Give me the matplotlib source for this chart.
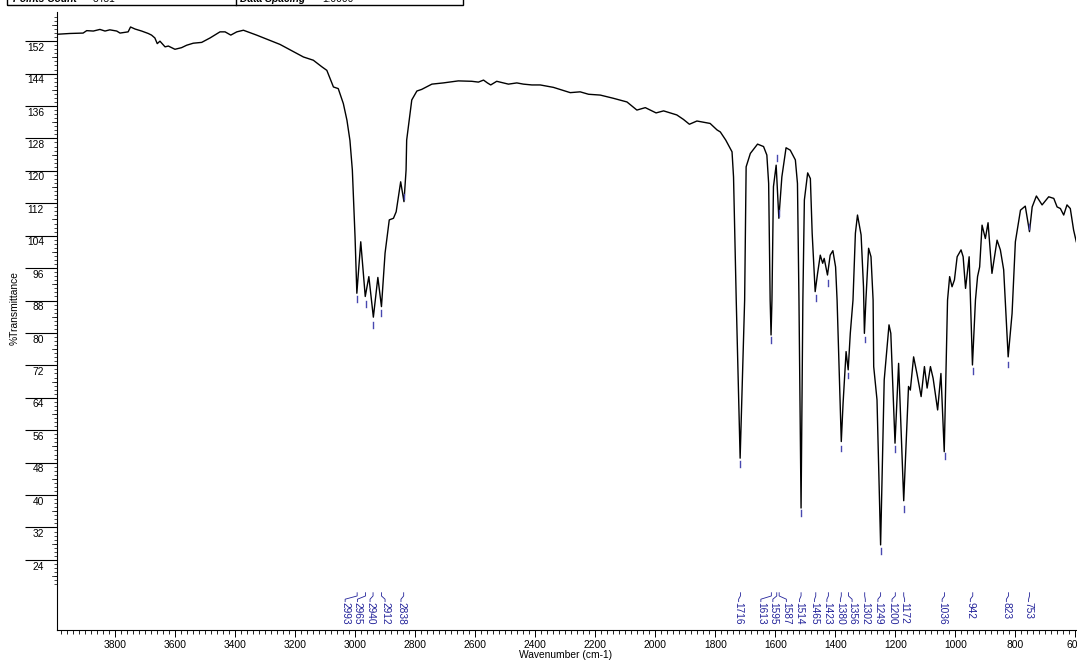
import numpy as np
import matplotlib.pyplot as plt
from matplotlib import transforms
from matplotlib.patches import Rectangle
from matplotlib.lines import Line2D
from matplotlib.ticker import FixedLocator, NullFormatter

plt.rcParams['font.family'] = ['Liberation Sans', 'DejaVu Sans']

# --- spectrum (wavenumber cm-1, %T) ---
wavenumber = [
    3994, 3950, 3906, 3894, 3872, 3850, 3833, 3817, 3794, 3783, 3756, 3748,
    3733, 3711, 3689, 3678, 3667, 3659, 3650, 3633, 3622, 3600, 3578, 3561,
    3539, 3511, 3483, 3450, 3433, 3414, 3394, 3372, 3328, 3250, 3172, 3139,
    3111, 3094, 3072, 3056, 3039, 3027, 3017, 3009, 3000, 2994, 2981, 2966,
    2954, 2939, 2924, 2912, 2900, 2886, 2872, 2863, 2848, 2837, 2830, 2828,
    2811, 2794, 2778, 2744, 2706, 2656, 2611, 2589, 2572, 2559, 2548, 2528,
    2506, 2489, 2461, 2439, 2411, 2383, 2339, 2283, 2250, 2222, 2183, 2139,
    2094, 2061, 2033, 1997, 1972, 1928, 1906, 1886, 1861, 1817, 1794, 1783,
    1765, 1744, 1739, 1730, 1717, 1702, 1697, 1683, 1659, 1639, 1628, 1622,
    1617, 1614, 1611, 1606, 1597, 1588, 1578, 1564, 1550, 1533, 1526, 1521,
    1514, 1508, 1503, 1492, 1483, 1477, 1467, 1459, 1450, 1442, 1437, 1426,
    1417, 1408, 1399, 1394, 1389, 1380, 1374, 1364, 1357, 1350, 1341, 1333,
    1326, 1314, 1306, 1303, 1298, 1289, 1281, 1274, 1272, 1261, 1249, 1237,
    1221, 1215, 1201, 1189, 1172, 1156, 1150, 1139, 1128, 1114, 1103, 1094,
    1083, 1074, 1059, 1048, 1037, 1026, 1019, 1011, 1003, 994, 981, 974,
    966, 954, 943, 933, 926, 919, 911, 900, 891, 878, 861, 850,
    839, 824, 811, 800, 783, 767, 753, 744, 730, 711, 689, 672,
    661, 650, 639, 628, 617, 606, 597,
]
transmittance = [
    153.7, 153.9, 154.0, 154.6, 154.5, 154.9, 154.5, 154.8, 154.5, 154.0, 154.3, 155.5,
    155.0, 154.5, 153.9, 153.5, 152.8, 151.4, 152.0, 150.6, 150.8, 150.0, 150.4, 151.0,
    151.5, 151.7, 152.8, 154.3, 154.3, 153.5, 154.3, 154.7, 153.5, 151.2, 148.1, 147.3,
    145.7, 144.8, 140.7, 140.3, 136.6, 132.5, 127.5, 120.2, 103.7, 89.8, 102.5, 89.0,
    93.9, 83.9, 93.7, 86.5, 99.7, 107.9, 108.3, 109.9, 117.3, 112.4, 120.2, 127.6,
    137.5, 139.7, 140.1, 141.4, 141.7, 142.2, 142.1, 141.9, 142.4, 141.7, 141.2, 142.1,
    141.7, 141.4, 141.7, 141.4, 141.2, 141.2, 140.6, 139.3, 139.5, 138.9, 138.7, 137.9,
    137.0, 135.0, 135.6, 134.3, 134.8, 133.8, 132.7, 131.5, 132.3, 131.7, 130.1, 129.6,
    127.6, 124.7, 118.5, 88.1, 49.1, 88.1, 121.0, 124.3, 126.6, 126.0, 123.9, 116.9,
    88.1, 79.5, 88.1, 116.1, 121.4, 108.3, 118.5, 125.7, 125.1, 122.7, 116.9, 88.1,
    36.8, 88.1, 112.8, 119.5, 118.1, 104.6, 90.2, 94.7, 99.2, 97.2, 98.4, 94.3,
    99.2, 100.3, 96.3, 88.1, 75.8, 53.2, 62.7, 75.4, 70.9, 79.9, 88.1, 104.6,
    109.1, 104.2, 91.4, 79.9, 88.1, 100.9, 98.8, 88.1, 71.7, 63.5, 27.7, 68.4,
    82.0, 79.9, 52.8, 72.5, 38.6, 66.8, 65.9, 74.1, 70.0, 64.3, 71.7, 66.4,
    71.7, 68.8, 61.0, 70.0, 50.7, 88.1, 93.9, 91.4, 93.1, 98.8, 100.5, 98.8,
    91.0, 98.8, 72.1, 88.1, 93.9, 96.3, 106.6, 103.3, 107.2, 94.7, 102.9, 100.5,
    95.6, 74.1, 84.8, 102.5, 110.3, 111.3, 105.0, 111.1, 113.8, 111.6, 113.6, 113.2,
    111.1, 110.7, 109.1, 111.6, 110.7, 105.4, 102.5,
]

# --- peak picks: label, top of the blue marker (%T), label slot (cm-1) ---
peak_labels = [2993, 2965, 2940, 2912, 2838, 1716, 1613, 1595, 1587, 1514, 1465,
               1423, 1380, 1356, 1302, 1249, 1200, 1172, 1036, 942, 823, 753]
peak_marks = [89.1, 87.9, 82.6, 85.7, 114.4, 48.3, 78.9, 123.9, 110.3, 36.3, 89.4,
              93.1, 52.2, 70.2, 79.1, 26.9, 52.0, 37.3, 50.3, 71.3, 72.9, 107.0]
label_slots = [3033, 2992, 2950, 2900, 2847, 1722, 1648, 1608, 1563, 1519, 1469,
               1428, 1383, 1344, 1300, 1258, 1211, 1169, 1044, 950, 830, 756]

y_major = list(range(24, 153, 8))
x_major = list(range(3800, 599, -200))

W, H = 1077, 662
fig = plt.figure(figsize=(W / 100, H / 100), dpi=100)
ax = fig.add_axes([57 / W, 1 - 630 / H, (1076 - 57) / W, 618 / H])

ax.plot(wavenumber, transmittance, color='black', lw=1.0)
ax.set_xlim(3993, 598)
ax.set_ylim(6.7, 159.2)

mark_col = '#4848b0'
text_col = '#22229a'
for lab, top, slot in zip(peak_labels, peak_marks, label_slots):
    ax.plot([lab, lab], [top, top - 1.4], color=mark_col, lw=1.0)
    ax.plot([lab, lab, slot, slot], [15.9, 15.1, 14.3, 13.7], color=text_col, lw=0.6)
    ax.text(slot, 13.5, str(lab), rotation=-90, ha='center', va='top',
            fontsize=7.3, color=text_col)

# axes styling
for s in ['top', 'right']:
    ax.spines[s].set_visible(False)
ax.spines['left'].set_linewidth(0.8)
ax.spines['bottom'].set_linewidth(0.8)

ax.xaxis.set_major_locator(FixedLocator(x_major))
ax.xaxis.set_minor_locator(FixedLocator(list(range(3980, 599, -20))))
ax.tick_params(axis='x', which='major', length=5, width=0.7, pad=2.5, labelsize=7.4)
ax.tick_params(axis='x', which='minor', length=3, width=0.6)

ax.yaxis.set_major_locator(FixedLocator(y_major))
ax.yaxis.set_minor_locator(FixedLocator(list(range(18, 159))))
ax.yaxis.set_major_formatter(NullFormatter())
ax.tick_params(axis='y', which='major', length=23, width=0.8)
ax.tick_params(axis='y', which='minor', length=2.3, width=0.5)

ytrans = transforms.blended_transform_factory(ax.transAxes, ax.transData)
for v in y_major:
    ax.text(-13 / 1019, v - 0.4, str(v), transform=ytrans, ha='right', va='top', fontsize=7.4)
for v in range(20, 157, 4):
    if v % 8:
        ax.add_line(Line2D([-5 / 1019, 0], [v, v], transform=ytrans, color='black',
                           lw=0.5, clip_on=False))

fig.text(15 / W, 1 - 308 / H, '%Transmittance', rotation=90, ha='center', va='center', fontsize=7.4)
fig.text(566 / W, 1 - 655 / H, 'Wavenumber (cm-1)', ha='center', va='center', fontsize=7.4)

# header table, cut off at the top of the page
fig.patches.append(Rectangle((7 / W, 1 - 5 / H), 456 / W, 12 / H, transform=fig.transFigure,
                             fill=False, edgecolor='black', lw=1.0))
fig.lines.append(Line2D([236 / W, 236 / W], [1 - 5 / H, 1], transform=fig.transFigure,
                        color='black', lw=1.0))
hy = 1 - 2.5 / H
fig.text(13 / W, hy, 'Points Count', fontsize=7.4, fontweight='bold', style='italic', va='baseline')
fig.text(93 / W, hy, '3451', fontsize=7.4, va='baseline')
fig.text(240 / W, hy, 'Data Spacing', fontsize=7.4, fontweight='bold', style='italic', va='baseline')
fig.text(322 / W, hy, '1.0000', fontsize=7.4, va='baseline')

fig.savefig('out.png', dpi=100)
